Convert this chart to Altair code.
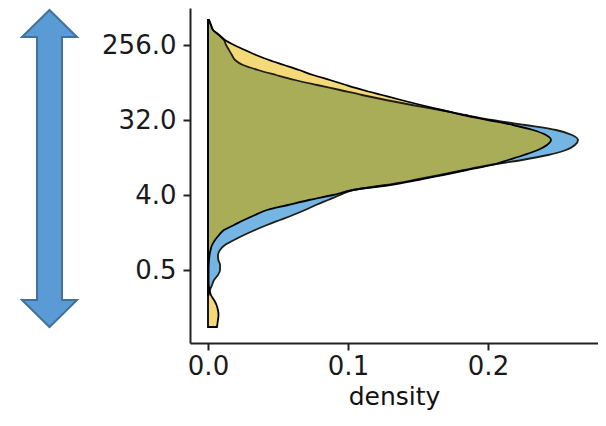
import altair as alt
import pandas as pd

# log2 of the value (y axis is log2 scaled)
log2_value = [9.0, 8.8, 8.6, 8.4, 8.2, 8.0, 7.8, 7.6, 7.4, 7.2,
              7.0, 6.8, 6.6, 6.4, 6.2, 6.0, 5.8, 5.6, 5.4, 5.2,
              5.0, 4.8, 4.6, 4.4, 4.2, 4.0, 3.8, 3.6, 3.4, 3.2,
              3.0, 2.8, 2.6, 2.4, 2.2, 2.0, 1.8, 1.6, 1.4, 1.2,
              1.0, 0.8, 0.6, 0.4, 0.2, 0.0, -0.2, -0.4, -0.6, -0.8,
              -1.0, -1.2, -1.4, -1.6, -1.8, -2.0, -2.2, -2.4, -2.6, -2.8,
              -3.0, -3.28]

yellow_density = [0.0007, 0.0021, 0.0036, 0.0079, 0.0121, 0.0186, 0.0264, 0.0343, 0.0436, 0.0543,
                  0.0650, 0.0750, 0.0871, 0.0986, 0.1107, 0.1243, 0.1379, 0.1521, 0.1671, 0.1821,
                  0.2000, 0.2179, 0.2321, 0.2414, 0.2450, 0.2421, 0.2357, 0.2257, 0.2143, 0.2029,
                  0.1850, 0.1679, 0.1500, 0.1300, 0.1036, 0.0893, 0.0721, 0.0571, 0.0421, 0.0336,
                  0.0257, 0.0186, 0.0114, 0.0079, 0.0050, 0.0029, 0.0018, 0.0011, 0.0007, 0.0005,
                  0.0004, 0.0004, 0.0004, 0.0005, 0.0011, 0.0021, 0.0043, 0.0061, 0.0071, 0.0075,
                  0.0071, 0.0064]

blue_density = [0.0007, 0.0021, 0.0036, 0.0079, 0.0114, 0.0129, 0.0150, 0.0171, 0.0193, 0.0250,
                0.0357, 0.0486, 0.0621, 0.0779, 0.0943, 0.1100, 0.1271, 0.1457, 0.1657, 0.1836,
                0.2029, 0.2264, 0.2486, 0.2600, 0.2643, 0.2621, 0.2557, 0.2429, 0.2243, 0.2014,
                0.1829, 0.1657, 0.1471, 0.1271, 0.1036, 0.0943, 0.0857, 0.0771, 0.0693, 0.0607,
                0.0514, 0.0421, 0.0336, 0.0257, 0.0186, 0.0121, 0.0086, 0.0071, 0.0074, 0.0086,
                0.0086, 0.0071, 0.0043, 0.0029, 0.0014, 0.0004, None, None, None, None,
                None, None]

y_ticks = [0.5, 4.0, 32.0, 256.0]
x_ticks = [0.0, 0.1, 0.2]

BLUE = "#74B5E4"
YELLOW = "#F4D978"
OLIVE = "#A9AD57"
FONT = "DejaVu Sans"

df = pd.DataFrame({
    "value": [2 ** v for v in log2_value],
    "blue": blue_density,
    "yellow": yellow_density,
})

xscale = alt.Scale(domain=[-0.012857, 0.278571], nice=False, zero=False)
yscale = alt.Scale(type="log", base=2, domain=[2 ** -3.92, 2 ** 9.48], nice=False)

xaxis = alt.Axis(values=x_ticks, format=".1f", title="density", grid=False,
                 labelFont=FONT, labelFontSize=26, labelColor="#1a1a1a",
                 titleFont=FONT, titleFontSize=25, titleFontWeight="normal", titleColor="#111111",
                 titlePadding=5, labelPadding=3, tickSize=7, tickWidth=2, tickColor="#222222",
                 domainWidth=2, domainColor="#222222")
yaxis = alt.Axis(values=y_ticks, format=".1f", title=None, grid=False,
                 labelFont=FONT, labelFontSize=26, labelColor="#1a1a1a",
                 labelPadding=7, tickSize=7, tickWidth=2, tickColor="#222222",
                 domainWidth=2, domainColor="#222222")

base = alt.Chart(df).transform_calculate(
    overlap="isValid(datum.blue) ? min(datum.blue, datum.yellow) : 0"
)

y_enc = alt.Y("value:Q", scale=yscale, axis=yaxis)
INTERP = "monotone"

blue_fill = base.mark_area(orient="horizontal", color=BLUE, opacity=1, interpolate=INTERP).encode(
    x=alt.X("blue:Q", scale=xscale, axis=xaxis), y=y_enc)
yellow_fill = base.mark_area(orient="horizontal", color=YELLOW, opacity=1, interpolate=INTERP).encode(
    x=alt.X("yellow:Q", scale=xscale, axis=xaxis), y=y_enc)
olive_fill = base.mark_area(orient="horizontal", color=OLIVE, opacity=1, interpolate=INTERP).encode(
    x=alt.X("overlap:Q", scale=xscale, axis=xaxis), y=y_enc)
blue_line = base.mark_area(orient="horizontal", fillOpacity=0, stroke="#1e1e14", strokeWidth=1.8,
                           interpolate=INTERP).encode(
    x=alt.X("blue:Q", scale=xscale, axis=xaxis), y=y_enc)
yellow_line = base.mark_area(orient="horizontal", fillOpacity=0, stroke="#000000", strokeWidth=1.8,
                             interpolate=INTERP).encode(
    x=alt.X("yellow:Q", scale=xscale, axis=xaxis), y=y_enc)

ARROW = ("M0,-1 L0.1735,-0.83 L0.0789,-0.83 L0.0789,0.83 L0.1735,0.83 L0,1 "
         "L-0.1735,0.83 L-0.0789,0.83 L-0.0789,-0.83 L-0.1735,-0.83 Z")
arrow = alt.Chart(pd.DataFrame({"a": [1]})).mark_point(
    shape=ARROW, filled=True, fill="#5B9BD5", stroke="#41719C", strokeWidth=2,
    size=100489, opacity=1, fillOpacity=1, strokeOpacity=1
).encode(x=alt.value(-140.5), y=alt.value(160.5))

chart = alt.layer(blue_fill, yellow_fill, olive_fill, blue_line, yellow_line, arrow).properties(
    width=408, height=335,
    autosize=alt.AutoSizeParams(type="none"),
    padding={"left": 182, "top": 0, "right": 0, "bottom": 75},
    background="white",
).configure_view(stroke=None)

chart.save("out.html", embed_options={"renderer": "svg", "actions": False})
